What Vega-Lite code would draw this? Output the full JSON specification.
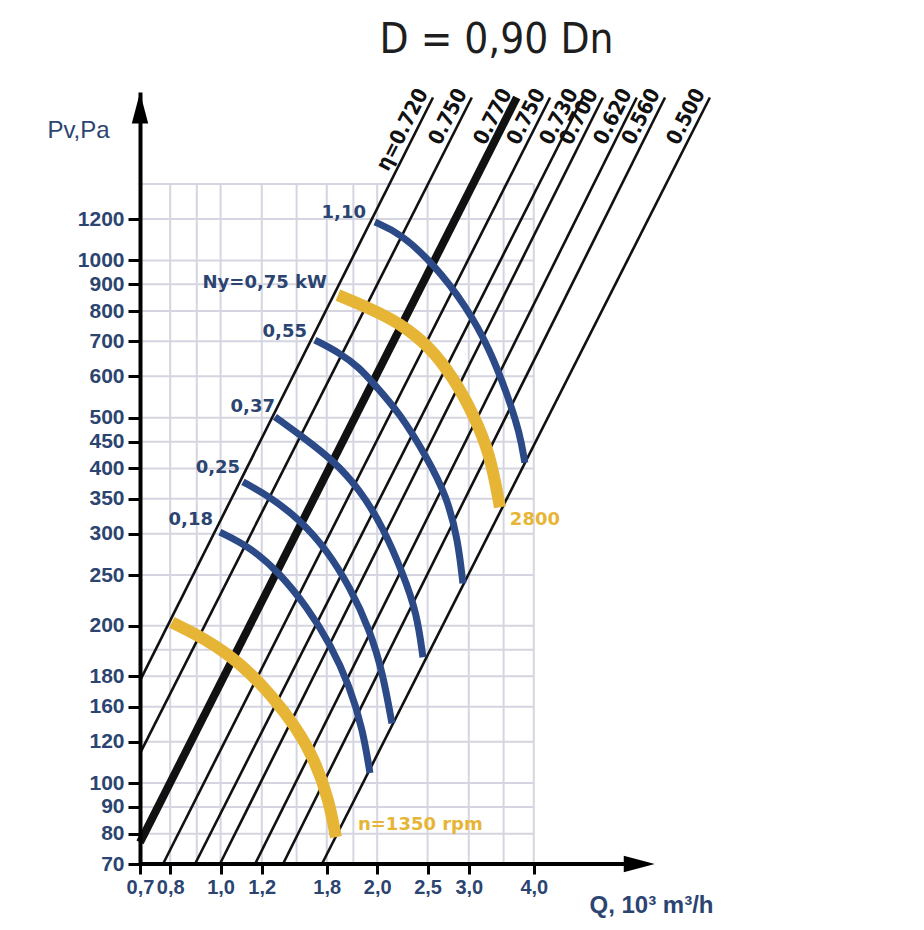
{
  "$schema": "https://vega.github.io/schema/vega-lite/v6.json",
  "width": 577,
  "height": 772,
  "autosize": {"type": "none"},
  "padding": {"left": 140, "top": 92, "right": 207, "bottom": 66},
  "background": "white",
  "title": {
    "text": "D = 0,90 Dn",
    "font": "DejaVu Sans Condensed",
    "fontSize": 42,
    "fontWeight": "normal",
    "color": "#1e1e1e",
    "anchor": "middle",
    "frame": "group",
    "baseline": "alphabetic",
    "dx": 68,
    "offset": -14
  },
  "config": {"view": {"stroke": null}},
  "datasets": {
    "gridQ": [
      {"q": 0.8, "lo": 70, "hi": 1400}, {"q": 0.9, "lo": 70, "hi": 1400},
      {"q": 1.0, "lo": 70, "hi": 1400}, {"q": 1.2, "lo": 70, "hi": 1400},
      {"q": 1.4, "lo": 70, "hi": 1400}, {"q": 1.6, "lo": 70, "hi": 1400},
      {"q": 1.8, "lo": 70, "hi": 1400}, {"q": 2.0, "lo": 70, "hi": 1400},
      {"q": 2.5, "lo": 70, "hi": 1400}, {"q": 3.0, "lo": 70, "hi": 1400},
      {"q": 3.5, "lo": 70, "hi": 1400}, {"q": 4.0, "lo": 70, "hi": 1400}
    ],
    "gridP": [
      {"p": 80, "lo": 0.7, "hi": 4.0}, {"p": 90, "lo": 0.7, "hi": 4.0},
      {"p": 100, "lo": 0.7, "hi": 4.0}, {"p": 120, "lo": 0.7, "hi": 4.0},
      {"p": 140, "lo": 0.7, "hi": 4.0}, {"p": 160, "lo": 0.7, "hi": 4.0},
      {"p": 180, "lo": 0.7, "hi": 4.0}, {"p": 200, "lo": 0.7, "hi": 4.0},
      {"p": 250, "lo": 0.7, "hi": 4.0}, {"p": 300, "lo": 0.7, "hi": 4.0},
      {"p": 350, "lo": 0.7, "hi": 4.0}, {"p": 400, "lo": 0.7, "hi": 4.0},
      {"p": 450, "lo": 0.7, "hi": 4.0}, {"p": 500, "lo": 0.7, "hi": 4.0},
      {"p": 600, "lo": 0.7, "hi": 4.0}, {"p": 700, "lo": 0.7, "hi": 4.0},
      {"p": 800, "lo": 0.7, "hi": 4.0}, {"p": 900, "lo": 0.7, "hi": 4.0},
      {"p": 1000, "lo": 0.7, "hi": 4.0}, {"p": 1200, "lo": 0.7, "hi": 4.0},
      {"p": 1400, "lo": 0.7, "hi": 4.0}
    ],
    "eta": [
      {"id": 1, "label": "η=0.720", "q": 0.7, "p": 157},
      {"id": 1, "label": "η=0.720", "q": 2.56, "p": 2050},
      {"id": 2, "label": "0.750", "q": 0.7, "p": 114},
      {"id": 2, "label": "0.750", "q": 3.04, "p": 2050},
      {"id": 3, "label": "0.770", "q": 0.7, "p": 77},
      {"id": 3, "label": "0.770", "q": 3.71, "p": 2050},
      {"id": 4, "label": "0.750", "q": 0.775, "p": 70},
      {"id": 4, "label": "0.750", "q": 4.30, "p": 2050},
      {"id": 5, "label": "0.730", "q": 0.893, "p": 70},
      {"id": 5, "label": "0.730", "q": 4.97, "p": 2050},
      {"id": 6, "label": "0.700", "q": 0.997, "p": 70},
      {"id": 6, "label": "0.700", "q": 5.43, "p": 2050},
      {"id": 7, "label": "0.620", "q": 1.165, "p": 70},
      {"id": 7, "label": "0.620", "q": 6.31, "p": 2050},
      {"id": 8, "label": "0.560", "q": 1.318, "p": 70},
      {"id": 8, "label": "0.560", "q": 7.15, "p": 2050},
      {"id": 9, "label": "0.500", "q": 1.566, "p": 70},
      {"id": 9, "label": "0.500", "q": 8.72, "p": 2050}
    ],
    "curves": [
      {"curve": "1,10", "kind": "power", "q": 1.980, "p": 1184},
      {"curve": "1,10", "kind": "power", "q": 2.212, "p": 1128},
      {"curve": "1,10", "kind": "power", "q": 2.560, "p": 988},
      {"curve": "1,10", "kind": "power", "q": 2.975, "p": 814},
      {"curve": "1,10", "kind": "power", "q": 3.294, "p": 674},
      {"curve": "1,10", "kind": "power", "q": 3.551, "p": 557},
      {"curve": "1,10", "kind": "power", "q": 3.761, "p": 467},
      {"curve": "1,10", "kind": "power", "q": 3.845, "p": 410},
      {"curve": "0,75", "kind": "speed", "q": 1.681, "p": 858},
      {"curve": "0,75", "kind": "speed", "q": 1.911, "p": 814},
      {"curve": "0,75", "kind": "speed", "q": 2.212, "p": 759},
      {"curve": "0,75", "kind": "speed", "q": 2.526, "p": 683},
      {"curve": "0,75", "kind": "speed", "q": 2.796, "p": 598},
      {"curve": "0,75", "kind": "speed", "q": 3.055, "p": 510},
      {"curve": "0,75", "kind": "speed", "q": 3.294, "p": 428},
      {"curve": "0,75", "kind": "speed", "q": 3.443, "p": 337},
      {"curve": "0,55", "kind": "power", "q": 1.518, "p": 704},
      {"curve": "0,55", "kind": "power", "q": 1.696, "p": 665},
      {"curve": "0,55", "kind": "power", "q": 1.853, "p": 622},
      {"curve": "0,55", "kind": "power", "q": 1.963, "p": 583},
      {"curve": "0,55", "kind": "power", "q": 2.212, "p": 510},
      {"curve": "0,55", "kind": "power", "q": 2.492, "p": 420},
      {"curve": "0,55", "kind": "power", "q": 2.723, "p": 353},
      {"curve": "0,55", "kind": "power", "q": 2.859, "p": 292},
      {"curve": "0,55", "kind": "power", "q": 2.923, "p": 241},
      {"curve": "0,37", "kind": "power", "q": 1.272, "p": 502},
      {"curve": "0,37", "kind": "power", "q": 1.440, "p": 459},
      {"curve": "0,37", "kind": "power", "q": 1.644, "p": 415},
      {"curve": "0,37", "kind": "power", "q": 1.853, "p": 364},
      {"curve": "0,37", "kind": "power", "q": 2.051, "p": 309},
      {"curve": "0,37", "kind": "power", "q": 2.241, "p": 252},
      {"curve": "0,37", "kind": "power", "q": 2.385, "p": 211},
      {"curve": "0,37", "kind": "power", "q": 2.449, "p": 174},
      {"curve": "0,25", "kind": "power", "q": 1.104, "p": 377},
      {"curve": "0,25", "kind": "power", "q": 1.244, "p": 353},
      {"curve": "0,25", "kind": "power", "q": 1.421, "p": 319},
      {"curve": "0,25", "kind": "power", "q": 1.601, "p": 279},
      {"curve": "0,25", "kind": "power", "q": 1.773, "p": 237},
      {"curve": "0,25", "kind": "power", "q": 1.937, "p": 196},
      {"curve": "0,25", "kind": "power", "q": 2.051, "p": 162},
      {"curve": "0,25", "kind": "power", "q": 2.135, "p": 130},
      {"curve": "0,18", "kind": "power", "q": 0.997, "p": 302},
      {"curve": "0,18", "kind": "power", "q": 1.139, "p": 283},
      {"curve": "0,18", "kind": "power", "q": 1.300, "p": 252},
      {"curve": "0,18", "kind": "power", "q": 1.466, "p": 217},
      {"curve": "0,18", "kind": "power", "q": 1.623, "p": 185},
      {"curve": "0,18", "kind": "power", "q": 1.773, "p": 153},
      {"curve": "0,18", "kind": "power", "q": 1.878, "p": 126},
      {"curve": "0,18", "kind": "power", "q": 1.937, "p": 104.5},
      {"curve": "1350", "kind": "speed", "q": 0.806, "p": 203},
      {"curve": "1350", "kind": "speed", "q": 0.933, "p": 189},
      {"curve": "1350", "kind": "speed", "q": 1.090, "p": 170},
      {"curve": "1350", "kind": "speed", "q": 1.255, "p": 147},
      {"curve": "1350", "kind": "speed", "q": 1.396, "p": 128},
      {"curve": "1350", "kind": "speed", "q": 1.518, "p": 110.7},
      {"curve": "1350", "kind": "speed", "q": 1.615, "p": 92.8},
      {"curve": "1350", "kind": "speed", "q": 1.666, "p": 78.8}
    ],
    "labels": [
      {"text": "1,10", "kind": "power", "q": 1.903, "p": 1232},
      {"text": "Ny=0,75 kW", "kind": "power", "q": 1.601, "p": 905},
      {"text": "0,55", "kind": "power", "q": 1.466, "p": 729},
      {"text": "0,37", "kind": "power", "q": 1.272, "p": 524},
      {"text": "0,25", "kind": "power", "q": 1.090, "p": 401},
      {"text": "0,18", "kind": "power", "q": 0.967, "p": 319},
      {"text": "2800", "kind": "speed", "q": 3.598, "p": 319},
      {"text": "n=1350 rpm", "kind": "speed", "q": 1.837, "p": 83}
    ],
    "arrows": [
      {"axis": "Q", "q0": 0.7, "q": 6.38, "p": 70},
      {"axis": "Pv", "q0": 0.7, "q": 0.7, "p": 1957}
    ]
  },
  "layer": [
    {
      "data": {"name": "gridQ"},
      "mark": {"type": "rule", "color": "#d5d5e1", "strokeWidth": 2},
      "encoding": {
        "x": {
          "field": "q", "type": "quantitative",
          "scale": {"type": "log", "domain": [0.7, 9.0], "nice": false},
          "axis": {
            "values": [0.7, 0.8, 1.0, 1.2, 1.6, 2.0, 2.5, 3.0, 4.0],
            "labelExpr": "datum.value == 1.6 ? '1,8' : replace(format(datum.value, '.1f'), '.', ',')",
            "domain": false,
            "grid": false,
            "ticks": true,
            "tickColor": "#000000",
            "tickWidth": 3,
            "tickSize": 10,
            "labelFont": "Liberation Sans",
            "labelFontSize": 20,
            "labelFontWeight": "bold",
            "labelColor": "#2c4470",
            "labelPadding": 3,
            "labelFlush": false,
            "labelOverlap": false,
            "title": "Q, 10³ m³/h",
            "titleFont": "Liberation Sans",
            "titleFontSize": 24,
            "titleFontWeight": "bold",
            "titleColor": "#2c4470",
            "titleX": 511,
            "titleY": 41,
            "titleAlign": "center",
            "titleBaseline": "middle",
            "zindex": 1
          }
        },
        "y": {"field": "lo", "type": "quantitative"},
        "y2": {"field": "hi"}
      }
    },
    {
      "data": {"name": "gridP"},
      "mark": {"type": "rule", "color": "#d5d5e1", "strokeWidth": 2},
      "encoding": {
        "y": {
          "field": "p", "type": "quantitative",
          "scale": {"type": "log", "domain": [70, 2100], "nice": false},
          "axis": {
            "values": [70, 80, 90, 100, 120, 140, 160, 200, 250, 300, 350, 400, 450, 500, 600, 700, 800, 900, 1000, 1200],
            "labelExpr": "datum.value == 160 ? '180' : datum.value == 140 ? '160' : format(datum.value, 'd')",
            "domain": true,
            "domainColor": "#000000",
            "domainWidth": 4,
            "grid": false,
            "tickColor": "#000000",
            "tickWidth": 3,
            "tickSize": 12,
            "labelFont": "Liberation Sans",
            "labelFontSize": 21,
            "labelFontWeight": "bold",
            "labelColor": "#2c4470",
            "labelPadding": 4,
            "labelFlush": false,
            "labelOverlap": false,
            "title": "Pv,Pa",
            "titleFont": "Liberation Sans",
            "titleFontSize": 24,
            "titleFontWeight": "normal",
            "titleColor": "#2c4470",
            "titleAngle": 0,
            "titleX": -62,
            "titleY": 38,
            "titleAlign": "center",
            "titleBaseline": "middle",
            "zindex": 1
          }
        },
        "x": {"field": "lo", "type": "quantitative"},
        "x2": {"field": "hi"}
      }
    },
    {
      "data": {"name": "eta"},
      "mark": {"type": "line", "color": "#111111"},
      "encoding": {
        "x": {"field": "q", "type": "quantitative"},
        "y": {"field": "p", "type": "quantitative"},
        "detail": {"field": "id", "type": "nominal"},
        "strokeWidth": {"condition": {"test": "datum.id == 3", "value": 8}, "value": 2.6}
      }
    },
    {
      "data": {"name": "eta"},
      "transform": [{"filter": "datum.p > 2000"}],
      "mark": {
        "type": "text", "angle": -63, "align": "right", "baseline": "bottom",
        "dy": -2, "dx": 2,
        "font": "DejaVu Sans Condensed", "fontSize": 21, "fontWeight": "bold", "color": "#111111"
      },
      "encoding": {
        "x": {"field": "q", "type": "quantitative"},
        "y": {"field": "p", "type": "quantitative"},
        "text": {"field": "label"}
      }
    },
    {
      "data": {"name": "curves"},
      "transform": [{"filter": "datum.kind == 'power'"}],
      "mark": {"type": "line", "interpolate": "basis", "color": "#2b4a87", "strokeWidth": 7},
      "encoding": {
        "x": {"field": "q", "type": "quantitative"},
        "y": {"field": "p", "type": "quantitative"},
        "detail": {"field": "curve", "type": "nominal"}
      }
    },
    {
      "data": {"name": "curves"},
      "transform": [{"filter": "datum.kind == 'speed'"}],
      "mark": {"type": "line", "interpolate": "basis", "color": "#e7b536", "strokeWidth": 12},
      "encoding": {
        "x": {"field": "q", "type": "quantitative"},
        "y": {"field": "p", "type": "quantitative"},
        "detail": {"field": "curve", "type": "nominal"}
      }
    },
    {
      "data": {"name": "labels"},
      "transform": [{"filter": "datum.kind == 'power'"}],
      "mark": {
        "type": "text", "align": "right", "baseline": "middle",
        "font": "DejaVu Sans", "fontSize": 18, "fontWeight": "bold", "color": "#2c4470"
      },
      "encoding": {
        "x": {"field": "q", "type": "quantitative"},
        "y": {"field": "p", "type": "quantitative"},
        "text": {"field": "text"}
      }
    },
    {
      "data": {"name": "labels"},
      "transform": [{"filter": "datum.kind == 'speed'"}],
      "mark": {
        "type": "text", "align": "left", "baseline": "middle",
        "font": "DejaVu Sans", "fontSize": 18, "fontWeight": "bold", "color": "#e7b536"
      },
      "encoding": {
        "x": {"field": "q", "type": "quantitative"},
        "y": {"field": "p", "type": "quantitative"},
        "text": {"field": "text"}
      }
    },
    {
      "data": {"name": "arrows"},
      "transform": [{"filter": "datum.axis == 'Q'"}],
      "mark": {"type": "rule", "color": "#000000", "strokeWidth": 4},
      "encoding": {
        "x": {"field": "q0", "type": "quantitative"},
        "x2": {"field": "q"},
        "y": {"field": "p", "type": "quantitative"}
      }
    },
    {
      "data": {"name": "arrows"},
      "mark": {"type": "point", "filled": true, "opacity": 1, "color": "#000000", "size": 961},
      "encoding": {
        "x": {"field": "q", "type": "quantitative"},
        "y": {"field": "p", "type": "quantitative"},
        "shape": {
          "field": "axis", "type": "nominal", "legend": null,
          "scale": {"domain": ["Q", "Pv"], "range": ["M1,0L-1,-0.53L-1,0.53Z", "M0,-1L0.53,1L-0.53,1Z"]}
        }
      }
    }
  ]
}
